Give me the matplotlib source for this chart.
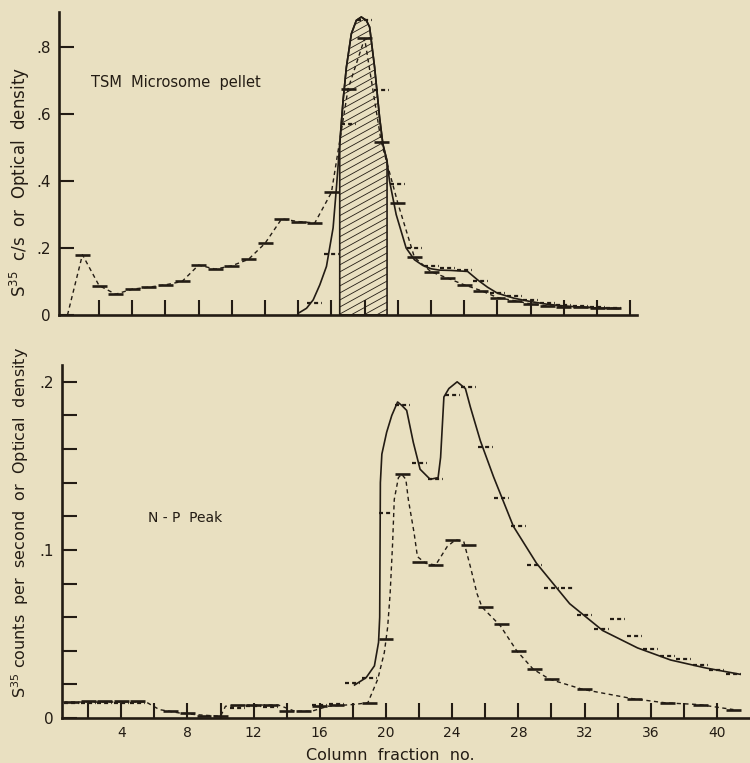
import matplotlib.pyplot as plt
import numpy as np
from matplotlib.patches import PathPatch
from matplotlib.ticker import FixedLocator, NullFormatter

ink = '#231c14'
paper = '#e9e0c1'

# ---------------- top panel: TSM microsome pellet ----------------
# dashed series (solid step marks), one value per column fraction
top_dash_x = [1, 2, 3, 4, 5, 6, 7, 8, 9, 10, 11, 12, 13, 14, 15, 16, 17,
              18, 19, 20, 21, 22, 23, 24, 25, 26, 27, 28, 29, 30, 31, 32, 33]
top_dash_y = [0.180, 0.088, 0.062, 0.077, 0.083, 0.090, 0.100, 0.149, 0.137,
              0.147, 0.166, 0.214, 0.287, 0.279, 0.275, 0.366, 0.675, 0.826,
              0.517, 0.334, 0.172, 0.129, 0.110, 0.090, 0.073, 0.052, 0.043,
              0.033, 0.027, 0.025, 0.024, 0.022, 0.020]
top_line_start = (0.1, 0.0)

# solid series (dotted step marks)
top_solid_x = [15, 16, 17, 18, 19, 20, 21, 22, 23, 24, 25, 26, 27, 28, 29,
               30, 31, 32, 33]
top_solid_y = [0.035, 0.182, 0.570, 0.880, 0.672, 0.390, 0.200, 0.146, 0.140,
               0.135, 0.100, 0.066, 0.058, 0.045, 0.035, 0.030, 0.026, 0.024,
               0.021]

# smooth solid curve as traced
top_curve_x = [14.0, 14.5, 14.9, 15.3, 15.7, 16.1, 16.3, 16.5, 16.7, 16.9,
               17.2, 17.5, 17.8, 18.1, 18.3, 18.6, 18.9, 19.1, 19.35, 19.5,
               19.9, 20.5, 21.0, 21.5, 22.0, 22.5, 23.2, 24.2, 24.8, 25.4,
               26.0, 27.0, 28.0, 29.0, 30.0, 31.2, 32.4, 33.3]
top_curve_y = [0.005, 0.020, 0.045, 0.090, 0.145, 0.260, 0.380, 0.510, 0.640,
               0.740, 0.840, 0.880, 0.890, 0.880, 0.860, 0.740, 0.590, 0.510,
               0.460, 0.400, 0.300, 0.200, 0.165, 0.148, 0.138, 0.134, 0.133,
               0.130, 0.105, 0.083, 0.065, 0.050, 0.040, 0.032, 0.027, 0.023,
               0.020, 0.019]
peak_lo, peak_hi = 16.5, 19.35

# ---------------- bottom panel: N-P peak ----------------
bot_dash_x = [1, 2, 3, 4, 5, 7, 8, 9, 10, 11, 12, 13, 14, 15, 16, 17, 19, 20,
              21, 22, 23, 24, 25, 26, 27, 28, 29, 30, 32, 35, 37, 39, 41]
bot_dash_y = [0.0095, 0.010, 0.010, 0.010, 0.010, 0.004, 0.003, 0.001, 0.001,
              0.0078, 0.0075, 0.0078, 0.004, 0.004, 0.007, 0.008, 0.009, 0.047,
              0.145, 0.093, 0.091, 0.106, 0.103, 0.066, 0.056, 0.040, 0.029,
              0.023, 0.017, 0.0115, 0.009, 0.008, 0.005]

bot_dline_x = [0.5, 2, 4, 5.5, 6.3, 7.5, 8.5, 10, 10.3, 12, 13.5, 14.5, 15.5,
               16.5, 18, 18.9, 19.5, 19.9, 20.1, 20.25, 20.4, 20.5, 20.75,
               20.95, 21.2, 21.35, 21.7, 21.9, 22.4, 23.0, 23.7, 24.2, 24.7,
               25.1, 25.5, 25.8, 26.9, 27.9, 28.9, 29.9, 31.9, 34.9, 36.9,
               38.9, 41.0]
bot_dline_y = [0.0095, 0.0095, 0.0095, 0.0095, 0.005, 0.003, 0.002, 0.001,
               0.007, 0.0077, 0.0077, 0.004, 0.004, 0.007, 0.008, 0.009, 0.023,
               0.039, 0.054, 0.074, 0.104, 0.130, 0.143, 0.145, 0.142, 0.130,
               0.110, 0.096, 0.092, 0.091, 0.102, 0.106, 0.105, 0.090, 0.074,
               0.066, 0.055, 0.040, 0.029, 0.023, 0.017, 0.0115, 0.009, 0.008,
               0.005]

bot_solid_x = [1, 2, 3, 4, 5, 11, 12, 13, 16, 17, 18, 19, 20, 21, 22, 23, 24,
               25, 26, 27, 28, 29, 30, 31, 32, 33, 34, 35, 36, 37, 38, 39, 40, 41]
bot_solid_y = [0.0092, 0.0092, 0.0092, 0.0092, 0.0092, 0.006, 0.007, 0.0068,
               0.0075, 0.0085, 0.021, 0.024, 0.122, 0.186, 0.152, 0.142, 0.192,
               0.197, 0.161, 0.131, 0.114, 0.091, 0.0776, 0.0776, 0.061, 0.053,
               0.059, 0.049, 0.041, 0.037, 0.035, 0.0315, 0.0286, 0.026]

bot_curve_x = [18.1, 18.8, 19.3, 19.55, 19.62, 19.64, 19.66, 19.75, 20.04,
               20.35, 20.7, 20.95, 21.25, 21.65, 22.06, 22.67, 23.15, 23.3,
               23.5, 23.8, 24.3, 24.8, 25.1, 25.7, 26.5, 27.7, 29.1, 31.1,
               33.1, 35.2, 37.2, 39.3, 41.4]
bot_curve_y = [0.0196, 0.024, 0.031, 0.045, 0.060, 0.100, 0.140, 0.157, 0.170,
               0.180, 0.188, 0.186, 0.183, 0.164, 0.148, 0.142, 0.143, 0.155,
               0.191, 0.196, 0.200, 0.196, 0.185, 0.165, 0.1435, 0.114, 0.092,
               0.068, 0.052, 0.0417, 0.0345, 0.0298, 0.026]

top_xticks = np.arange(2, 35, 2)
bot_major = [4, 8, 12, 16, 20, 24, 28, 32, 36, 40]
bot_minor = [2, 6, 10, 14, 18, 22, 26, 30, 34, 38]

plt.rcParams['font.family'] = 'DejaVu Sans'
fig = plt.figure(figsize=(7.5, 7.63), dpi=100, facecolor=paper)
ax1 = fig.add_axes([0.0787, 0.5872, 0.7707, 0.3971])
ax2 = fig.add_axes([0.0827, 0.0590, 0.9173, 0.4626])

dash_hw = 0.45
solid_mark = dict(color=ink, lw=1.9)
dot_mark = dict(color=ink, lw=1.6, linestyles=(0, (1.8, 1.4)))

for ax in (ax1, ax2):
    ax.set_facecolor(paper)
    for s in ('top', 'right'):
        ax.spines[s].set_visible(False)
    for s in ('left', 'bottom'):
        ax.spines[s].set_linewidth(1.9)
        ax.spines[s].set_color(ink)
    ax.tick_params(which='both', direction='in', length=10.5, width=1.5,
                   color=ink, labelcolor=ink, pad=6)

# ---- top ----
ax1.plot([top_line_start[0]] + top_dash_x, [top_line_start[1]] + top_dash_y,
         color=ink, lw=1.0, ls=(0, (3, 2.5)))
ax1.hlines(top_dash_y, np.array(top_dash_x) - dash_hw,
           np.array(top_dash_x) + dash_hw, **solid_mark)
ax1.hlines(top_solid_y, np.array(top_solid_x) - dash_hw,
           np.array(top_solid_x) + dash_hw, **dot_mark)
ax1.plot(top_curve_x, top_curve_y, color=ink, lw=1.2)

cx = np.array(top_curve_x)
region = ax1.fill_between(cx, 0, top_curve_y,
                          where=(cx >= peak_lo) & (cx <= peak_hi),
                          facecolor='none', edgecolor='none')
clip = PathPatch(region.get_paths()[0], transform=ax1.transData,
                 facecolor='none', edgecolor=ink, lw=1.2)
ax1.add_patch(clip)
slope = 0.55 * 16.6 / 335
for c in np.arange(-0.2, 0.95, 0.021):
    h, = ax1.plot([peak_lo - 0.5, peak_hi + 0.5],
                  [c, c + slope * (peak_hi - peak_lo + 1)],
                  color=ink, lw=0.6)
    h.set_clip_path(clip)

ax1.set_xlim(-0.41, 34.41)
ax1.set_ylim(0, 0.905)
ax1.set_xticks(top_xticks)
ax1.set_xticklabels([])
ax1.set_yticks([0, 0.2, 0.4, 0.6, 0.8])
ax1.set_yticklabels(['0', '.2', '.4', '.6', '.8'], fontsize=11)
ax1.set_ylabel(r'S$^{35}$  c/s  or  Optical  density', fontsize=12, color=ink)
ax1.yaxis.set_label_coords(-0.047, 0.44)
ax1.text(1.5, 0.695, 'TSM  Microsome  pellet', fontsize=10.5, color=ink,
         ha='left', va='center')

# ---- bottom ----
ax2.plot(bot_dline_x, bot_dline_y, color=ink, lw=1.0, ls=(0, (3, 2.5)))
ax2.hlines(bot_dash_y, np.array(bot_dash_x) - dash_hw,
           np.array(bot_dash_x) + dash_hw, **solid_mark)
ax2.hlines(bot_solid_y, np.array(bot_solid_x) - dash_hw,
           np.array(bot_solid_x) + dash_hw, **dot_mark)
ax2.plot(bot_curve_x, bot_curve_y, color=ink, lw=1.2)

ax2.set_xlim(0.42, 42.0)
ax2.set_ylim(0, 0.21)
ax2.xaxis.set_major_locator(FixedLocator(bot_major))
ax2.xaxis.set_minor_locator(FixedLocator(bot_minor))
ax2.xaxis.set_minor_formatter(NullFormatter())
ax2.set_xticklabels([str(v) for v in bot_major], fontsize=10)
ax2.yaxis.set_major_locator(FixedLocator([0, 0.1, 0.2]))
ax2.yaxis.set_minor_locator(FixedLocator(np.arange(0.02, 0.2, 0.02)))
ax2.yaxis.set_minor_formatter(NullFormatter())
ax2.set_yticklabels(['0', '.1', '.2'], fontsize=11)
ax2.set_ylabel(r'S$^{35}$ counts  per  second  or  Optical  density',
               fontsize=11.5, color=ink)
ax2.yaxis.set_label_coords(-0.045, 0.555)
ax2.set_xlabel('Column  fraction  no.', fontsize=11.5, color=ink)
ax2.xaxis.set_label_coords(0.477, -0.085)
ax2.text(5.62, 0.119, 'N - P  Peak', fontsize=10, color=ink,
         ha='left', va='center')

fig.savefig('out.png', dpi=100, facecolor=paper)
